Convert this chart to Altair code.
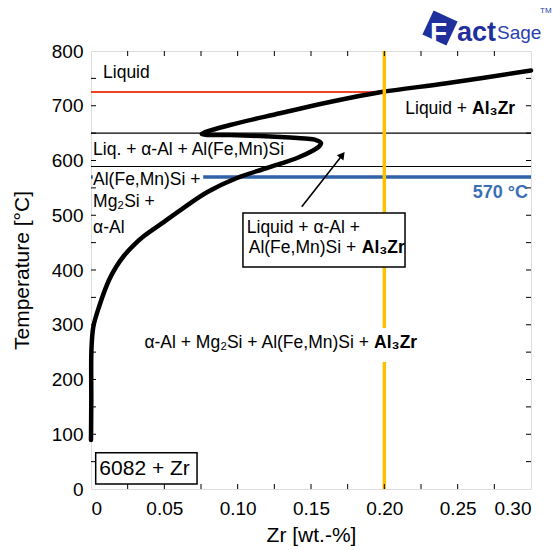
import altair as alt
import pandas as pd

# ---------------- data ----------------
curve_zr = [0.0, 0.0002, 0.0003, 0.0016, 0.0055, 0.0123, 0.017, 0.0225, 0.029, 0.0361,
            0.0498, 0.0634, 0.0791, 0.0995, 0.12, 0.1405, 0.1514, 0.1558, 0.1568, 0.1534,
            0.1459, 0.1357, 0.1152, 0.0948, 0.0755, 0.0948, 0.1289, 0.1629, 0.197, 0.2425,
            0.30]
curve_t = [89.5, 162.6, 254, 296.4, 333, 381.7, 405, 426, 445, 462,
           488, 514, 542, 568, 586.3, 604.6, 618.3, 626.5, 632, 637.4,
           640.2, 642, 644.7, 646.6, 648.4, 664.8, 686.2, 706.8, 724.6, 741,
           764.4]

liquid_red_t = [725]
liquid_red_zr = [0.0, 0.197]
phase_lines_t = [650, 589]
iso_t = [570]
alloy_zr = [0.20]

x_label_values = [0, 0.05, 0.10, 0.15, 0.20, 0.25, 0.30]
y_label_values = [0, 100, 200, 300, 400, 500, 600, 700, 800]
x_minor = [0.025, 0.05, 0.075, 0.10, 0.125, 0.15, 0.175, 0.20, 0.225, 0.25, 0.275]
y_minor = [50, 100, 150, 200, 250, 300, 350, 400, 450, 500, 550, 600, 650, 700, 750]

# annotations (zr, temperature, text)
txt_left = [(0.0082, 760, "Liquid"),
            (0.0014, 619, "Liq. + α-Al + Al(Fe,Mn)Si"),
            (0.0014, 564, "Al(Fe,Mn)Si +"),
            (0.0014, 525, "Mg₂Si +"),
            (0.0014, 476, "α-Al"),
            (0.1062, 476, "Liquid + α-Al +")]
txt_right = [(0.2564, 693.5, "Liquid +"),
             (0.1895, 267, "α-Al + Mg₂Si + Al(Fe,Mn)Si +"),
             (0.1808, 439.6, "Al(Fe,Mn)Si +")]
txt_bold = [(0.2598, 693.5, "Al₃Zr"),
            (0.1930, 267, "Al₃Zr"),
            (0.1846, 439.6, "Al₃Zr")]
txt_alloy = [(0.0057, 36, "6082 + Zr")]
txt_iso = [(0.298, 540.6, "570 °C")]

box_main = [(0.1036, 0.2141, 504, 405.5)]
box_alloy = [(0.0032, 0.0723, 66.3, 9.1)]
white_bg = [(0.0012, 0.0765, 586, 547), (0.030, 0.2243, 294, 232)]
arrow_zr = [0.1437, 0.1714]
arrow_t = [515.6, 610.1]

# ---------------- chart ----------------
W, H = 440, 438
FONT = "Liberation Sans"
FS = 17.5
xs = alt.Scale(domain=[0, 0.30], nice=False, zero=False)
ys = alt.Scale(domain=[0, 800], nice=False, zero=False)

x_axis = alt.Axis(values=x_label_values,
                  labelExpr="datum.value == 0 ? '0' : format(datum.value, '.2f')",
                  ticks=False, tickSize=0, grid=False, domain=False,
                  labelFontSize=19, labelPadding=10, labelColor="black",
                  title="Zr [wt.-%]", titleFontSize=21, titleFontWeight="normal",
                  titleColor="black", titleX=W / 2, titleY=46,
                  titleBaseline="middle", titleAlign="center")
y_axis = alt.Axis(values=y_label_values, ticks=False, tickSize=0, grid=False,
                  domain=False, labelFontSize=19, labelPadding=8, labelColor="black",
                  title="Temperature [°C]", titleFontSize=21, titleFontWeight="normal",
                  titleColor="black", titleAngle=270, titleX=-69, titleY=H / 2,
                  titleAlign="center", titleBaseline="middle")


def X(f):
    return alt.X(f, type="quantitative", scale=xs, axis=x_axis)


def Y(f):
    return alt.Y(f, type="quantitative", scale=ys, axis=y_axis)


curve_df = pd.DataFrame({"zr": curve_zr, "t": curve_t, "i": list(range(len(curve_zr)))})

hlines = alt.Chart(pd.DataFrame({"t": phase_lines_t})).mark_rule(
    color="black", strokeWidth=1.2).encode(y=Y("t"))

red = alt.Chart(pd.DataFrame({"zr": [liquid_red_zr[0]], "zr2": [liquid_red_zr[1]],
                              "t": liquid_red_t})).mark_rule(
    color="#ee4423", strokeWidth=2).encode(x=X("zr"), x2="zr2", y=Y("t"))

blue = alt.Chart(pd.DataFrame({"zr": [0.0], "zr2": [0.30], "t": iso_t})).mark_rule(
    color="#2f62a6", strokeWidth=3.5).encode(x=X("zr"), x2="zr2", y=Y("t"))

bg_df = pd.DataFrame(white_bg, columns=["a", "b", "c", "d"])
bg1 = alt.Chart(bg_df.iloc[[0]]).mark_rect(fill="white").encode(
    x=X("a"), x2="b", y=Y("c"), y2="d")
bg2 = alt.Chart(bg_df.iloc[[1]]).mark_rect(fill="white").encode(
    x=X("a"), x2="b", y=Y("c"), y2="d")

curve = alt.Chart(curve_df).mark_line(
    color="black", strokeWidth=4.5, strokeCap="round", strokeJoin="round",
    interpolate="catmull-rom").encode(
    x=X("zr"), y=Y("t"), order="i")

orange = alt.Chart(pd.DataFrame({"zr": alloy_zr})).mark_rule(
    color="#ffc000", strokeWidth=3.5).encode(x=X("zr"))

boxes = alt.Chart(pd.DataFrame(box_main + box_alloy, columns=["a", "b", "c", "d"])).mark_rect(
    fill="white", stroke="black", strokeWidth=1.5).encode(
    x=X("a"), x2="b", y=Y("c"), y2="d")

arrow_df = pd.DataFrame({"zr": arrow_zr, "t": arrow_t})
arrow_line = alt.Chart(arrow_df).mark_line(color="black", strokeWidth=1.6).encode(
    x=X("zr"), y=Y("t"))
arrow_head = alt.Chart(arrow_df.iloc[[1]]).mark_point(
    shape="triangle-up", filled=True, color="black", size=70, angle=38, opacity=1).encode(
    x=X("zr"), y=Y("t"))

# ticks inside the frame
tick_style = dict(color="black", strokeWidth=1)
xt = pd.DataFrame({"v": x_minor})
yt = pd.DataFrame({"v": y_minor})
ticks = [
    alt.Chart(xt).mark_rule(**tick_style).encode(x=X("v"), y=alt.value(H), y2=alt.value(H - 5)),
    alt.Chart(xt).mark_rule(**tick_style).encode(x=X("v"), y=alt.value(0), y2=alt.value(5)),
    alt.Chart(yt).mark_rule(**tick_style).encode(y=Y("v"), x=alt.value(0), x2=alt.value(5)),
    alt.Chart(yt).mark_rule(**tick_style).encode(y=Y("v"), x=alt.value(W), x2=alt.value(W - 5)),
]


def text_layer(rows, align, size=FS, weight="normal", color="black"):
    df = pd.DataFrame(rows, columns=["zr", "t", "label"])
    return alt.Chart(df).mark_text(align=align, baseline="middle", fontSize=size,
                                   fontWeight=weight, color=color, font=FONT).encode(
        x=X("zr"), y=Y("t"), text="label:N")


texts = [
    text_layer(txt_left, "left"),
    text_layer(txt_right, "right"),
    text_layer(txt_bold, "left", weight="bold"),
    text_layer(txt_alloy, "left", size=21),
    text_layer(txt_iso, "right", size=18, weight="bold", color="#3a6fb5"),
]

# FactSage logo (decoration above the frame)
one = pd.DataFrame({"k": [0]})
LOGO = "#1f2f9c"
logo = [
    alt.Chart(one).mark_point(shape="square", filled=True, color=LOGO, size=700,
                              angle=25, opacity=1).encode(x=alt.value(349), y=alt.value(-23)),
    alt.Chart(one).mark_text(text="F", fontSize=28, fontWeight="bold", color="white",
                             align="left", baseline="alphabetic", font=FONT).encode(
        x=alt.value(339), y=alt.value(-9)),
    alt.Chart(one).mark_text(text="act", fontSize=27, fontWeight="bold", color=LOGO,
                             align="left", baseline="alphabetic", font=FONT).encode(
        x=alt.value(366), y=alt.value(-10)),
    alt.Chart(one).mark_text(text="Sage", fontSize=19, color="#2a3fae",
                             align="left", baseline="alphabetic",
                             font="Liberation Sans Narrow, Liberation Sans").encode(
        x=alt.value(406), y=alt.value(-12)),
    alt.Chart(one).mark_text(text="TM", fontSize=8, color="#2a3fae",
                             align="left", baseline="middle", font=FONT).encode(
        x=alt.value(449), y=alt.value(-40)),
]

chart = alt.layer(
    hlines, red, blue, bg1, curve, orange, bg2, boxes, arrow_line, arrow_head,
    *ticks, *texts, *logo
).properties(
    width=W, height=H,
    autosize=alt.AutoSizeParams(type="none"),
    padding={"left": 91, "top": 51, "right": 22, "bottom": 61},
).configure_view(
    stroke="black", strokeWidth=1.5
).configure(font=FONT, background="white")

chart.save("out.html", embed_options={"renderer": "svg", "actions": False})
